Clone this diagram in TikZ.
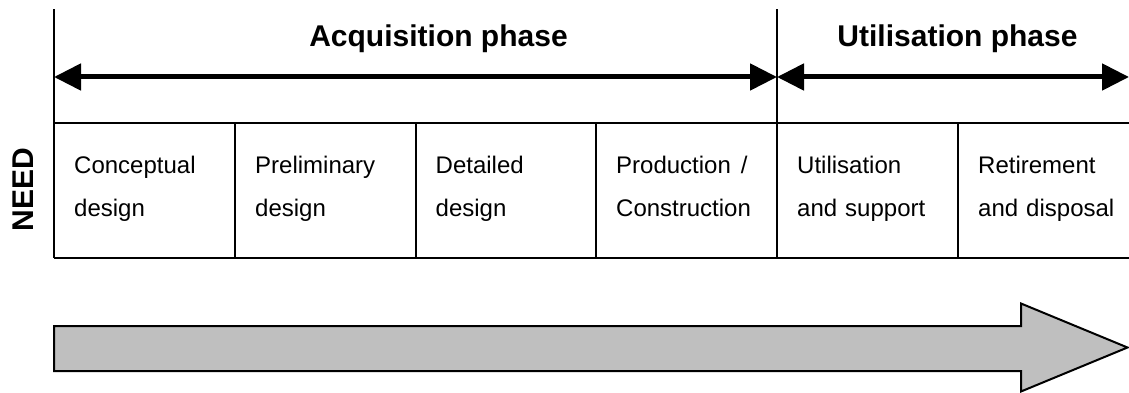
\documentclass[tikz,border=0pt]{standalone}
\usepackage{fontspec}
\setmainfont{Liberation Sans}
\usetikzlibrary{arrows.meta}
\tikzset{
	phasetitle/.style={anchor=base, inner sep=0pt, font=\fontsize{30}{36}\selectfont\bfseries},
	celltext/.style={anchor=base west, inner sep=0pt, text width=160pt, align=left, font=\fontsize{24}{43}\selectfont},
	phasearrow/.style={line width=5pt, {Triangle[length=27pt,width=26pt]}-{Triangle[length=27pt,width=26pt]}},
	tableline/.style={line width=2pt},
}

\begin{document}
\begin{tikzpicture}[x=1pt, y=-1pt]
		%%%%% START %%%%%
		\useasboundingbox (0, 0) rectangle (1129, 393);
		
		% phase limits
		\draw[line width=1.3pt] (54, 9.5) -- (54, 123);
		\draw[line width=1.3pt] (777, 9.5) -- (777, 123);
		
		\node[phasetitle] (acqtitle) at (438.5, 46.7) {Acquisition phase};
		\node[phasetitle] (utitle) at (957.5, 46.7) {Utilisation phase};
		
		\coordinate (acqL) at (54, 77);
		\coordinate (acqR) at (777, 77);
		\coordinate (utilR) at (1129, 77);
		\draw[phasearrow] (acqL) -- (acqR);
		\draw[phasearrow] (acqR) -- (utilR);
		
		% table of stages
		\draw[tableline] (54, 123) -- (1129, 123);
		\draw[tableline] (54, 258) -- (1129, 258);
		\foreach \x in {54, 235, 415.5, 596, 777, 958}
			\draw[tableline] (\x, 123) -- (\x, 258);
		
		\foreach \x/\name/\txt in {74/conc/{Conceptual\\design}, 255/prel/{Preliminary\\design},
				435.5/detl/{Detailed\\design}, 616/prod/{Production\hspace{10pt}/\\Construction},
				797/util/{Utilisation\\and support}, 978/reti/{Retirement\\and disposal}}
			\node[celltext] (\name) at (\x, 173) {\txt};
		
		\node[rotate=90, anchor=base, inner sep=0pt, font=\fontsize{30}{36}\selectfont\bfseries] (need) at (33, 189.5) {NEED};
		
		% time arrow
		\draw[line width=2pt, fill=black!25, line join=miter] (54, 326) -- (1021, 326) -- (1021, 303.5) -- (1127.5, 347.5)
			-- (1021, 391.5) -- (1021, 371) -- (54, 371) -- cycle;
		%%%%% END %%%%%
\end{tikzpicture}
\end{document}
